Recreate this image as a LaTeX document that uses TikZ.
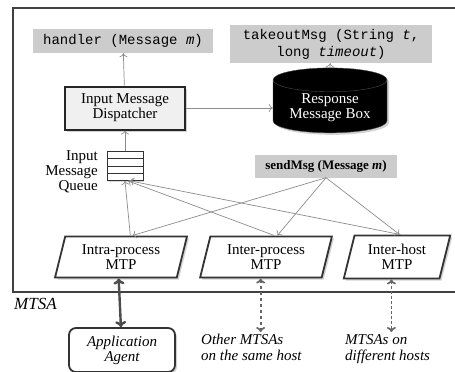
\documentclass[tikz,border=0pt]{standalone}
\usepackage{fontspec}
\setmainfont{Liberation Serif}
\setmonofont{Liberation Mono}
\usetikzlibrary{shapes.geometric,shadows,arrows.meta}

\begin{document}
\begin{tikzpicture}[x=1pt, y=-1pt, >={To[length=4pt, width=8pt]},
  every node/.style={inner sep=2pt, font=\fontsize{15}{17}\selectfont},
  api/.style={fill=gray!40, align=center, font=\fontsize{14}{17}\selectfont\ttfamily},
  shade/.style={drop shadow={shadow xshift=2pt, shadow yshift=-2pt, fill=gray!70}},
  mtp/.style={trapezium, trapezium left angle=76, trapezium right angle=104,
    draw=black!80, line width=1.8pt, fill=white, shade, align=center,
    minimum height=38pt, inner xsep=0pt},
  link/.style={->, draw=gray!90, line width=0.7pt},
  remote/.style={<->, >={To[length=5pt, width=9pt]}, draw=black!60, line width=1.7pt}]
\useasboundingbox (0,0) rectangle (455,372);

% MTSA frame
\draw[line width=2.6pt, draw=black!75] (13,8) rectangle (475,292);
\node[anchor=west, font=\fontsize{17}{17}\selectfont\itshape] (mtsa) at (12,304) {MTSA};

% API calls
\node[api, minimum width=180pt, minimum height=24pt] (handler) at (123,41)
  {handler (Message \textit{m})};
\node[api, minimum width=202pt, minimum height=38pt] (takeout) at (331,44)
  {takeoutMsg (String \textit{t},\\long \textit{timeout})};
\node[fill=gray!40, minimum width=142pt, minimum height=23pt,
  font=\fontsize{13}{15}\selectfont\bfseries] (send) at (326,166)
  {sendMsg (Message \textit{m})};

% dispatcher, response box, queue
\node[draw=black!85, line width=2pt, fill=gray!12, shade, align=center,
  minimum width=120pt, minimum height=43pt] (disp) at (125,108)
  {Input Message\\[-2pt]Dispatcher};
\node[cylinder, shape border rotate=90, aspect=0.28, fill=black, draw=black!70,
  text=white, shade, align=center, minimum width=114pt, minimum height=55pt]
  (resp) at (330,108) {Response\\[-2pt]Message Box};
\node[draw=black!80, line width=0.8pt, fill=white, drop shadow={shadow xshift=1pt,
  shadow yshift=-1pt, fill=gray!60}, minimum width=36pt, minimum height=29pt,
  path picture={\foreach \k in {1,2,3}
    \draw[black!80, line width=0.6pt] ([yshift=-\k*7.25pt]path picture bounding box.north west)
      -- ([yshift=-\k*7.25pt]path picture bounding box.north east);}]
  (queue) at (125,166) {};
\node[anchor=east, align=right] (qlabel) at (100,172) {Input\\[-2pt]Message\\[-2pt]Queue};

% transport protocols
\node[mtp, minimum width=132pt] (intra) at (121,257) {Intra-process\\[-2pt]MTP};
\node[mtp, minimum width=132pt] (inter) at (266,257) {Inter-process\\[-2pt]MTP};
\node[mtp, minimum width=107pt] (host) at (397,257) {Inter-host\\[-2pt]MTP};

% application side
\node[draw=black!80, line width=1.8pt, rounded corners=7pt, fill=white, shade,
  align=center, font=\fontsize{15}{17}\selectfont\itshape,
  minimum width=106pt, minimum height=44pt] (agent) at (122,350)
  {Application\\[-2pt]Agent};
\node[anchor=north west, align=left, font=\fontsize{15}{17}\selectfont\itshape]
  (same) at (199,332) {Other MTSAs\\[-1pt]on the same host};
\node[anchor=north west, align=left, font=\fontsize{15}{17}\selectfont\itshape]
  (diff) at (343,332) {MTSAs on\\[-1pt]different hosts};

% connectors
\draw[link] (disp) -- (handler);
\draw[link] (disp) -- (resp);
\draw[link] (resp.north) -- (takeout);
\draw[link] (queue) -- (disp);
\draw[link] ([xshift=4pt]intra.top side) -- (queue.south);
\draw[link] ([xshift=3pt]inter.top side) -- ([xshift=3pt]queue.south);
\draw[link] ([xshift=-2pt]host.top side) -- ([xshift=5pt]queue.south);
\draw[link] (send.south) -- ([xshift=6pt]intra.top side);
\draw[link] (send.south) -- ([xshift=6pt]inter.top side);
\draw[link] (send.south) -- ([xshift=-3pt]host.top side);
\draw[<->, >={To[length=6pt, width=11pt]}, draw=black!70, line width=2.4pt]
  ([xshift=3pt]intra.bottom side) -- (agent);
\draw[remote, dashed] (inter.bottom side) -- (inter.bottom side |- same.north);
\draw[remote, dash pattern=on 3pt off 2pt] (host.bottom side) -- (host.bottom side |- diff.north);
\end{tikzpicture}
\end{document}
